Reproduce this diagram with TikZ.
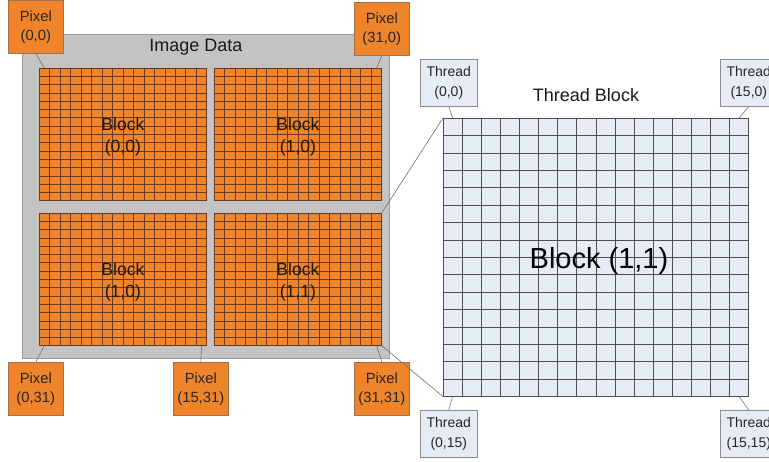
\documentclass[tikz,border=0pt]{standalone}
\usepackage{fontspec}
\setmainfont{Liberation Sans}
\usetikzlibrary{calc}

\definecolor{pixorange}{HTML}{F0842A}
\definecolor{pixedge}{HTML}{A07048}
\definecolor{cellline}{HTML}{6A3A1C}
\definecolor{imgfill}{HTML}{C3C3C3}
\definecolor{imgedge}{HTML}{9C9C9C}
\definecolor{thrfill}{HTML}{E6ECF6}
\definecolor{thredge}{HTML}{8C8C8C}
\definecolor{thrline}{HTML}{4E4E56}
\definecolor{leader}{HTML}{707070}

\tikzset{
  imgbox/.style={draw=imgedge, line width=1.2pt, fill=imgfill, inner sep=0pt,
    minimum width=367pt, minimum height=324pt, anchor=north west},
  blockbox/.style={draw=cellline, line width=0.8pt, fill=pixorange, inner sep=0pt,
    minimum width=167pt, minimum height=132pt, anchor=north west},
  cellrule/.style={draw=cellline, line width=0.7pt},
  blocklabel/.style={align=center, font=\fontsize{17.6}{22}\selectfont, text=black!90},
  pixbox/.style={draw=pixedge, line width=0.6pt, fill=pixorange, inner sep=0pt,
    minimum width=55pt, minimum height=53pt, anchor=north west, align=center,
    font=\fontsize{14.8}{19}\selectfont, text=black!85},
  thrgrid/.style={draw=thrline, line width=0.6pt, fill=thrfill, inner sep=0pt,
    minimum width=305pt, minimum height=278pt, anchor=north west},
  thrrule/.style={draw=thrline, line width=0.6pt},
  thrbox/.style={draw=thredge, line width=0.6pt, fill=thrfill, inner sep=0pt,
    minimum width=57pt, minimum height=47pt, anchor=north west, align=center,
    font=\fontsize{14}{20}\selectfont, text=black!85},
  title/.style={font=\fontsize{18}{20}\selectfont, text=black!90},
  leaderline/.style={draw=leader, line width=0.6pt},
}

\begin{document}
\begin{tikzpicture}[x=1pt, y=-1pt]
\useasboundingbox (0,0) rectangle (769,462);
\fill[white] (0,0) rectangle (769,462);

% the whole image
\node[imgbox] (img) at (22,34) {};
\node[title] (imgtitle) at (196,47) {Image Data};

% four 16x16 pixel blocks
\foreach \name/\x/\y in {b00/39/68, b10/214/68, b01/39/213, b11/214/213} {
  \node[blockbox] (\name) at (\x,\y) {};
  \foreach \i in {1,...,15} {
    \draw[cellrule] ($(\name.north west)!\i/16!(\name.north east)$) --
                    ($(\name.south west)!\i/16!(\name.south east)$);
    \draw[cellrule] ($(\name.north west)!\i/16!(\name.south west)$) --
                    ($(\name.north east)!\i/16!(\name.south east)$);
  }
}
\node[blocklabel] (l00) at ($(b00.center)+(0,3)$) {Block\\(0,0)};
\node[blocklabel] (l10) at ($(b10.center)+(0,3)$) {Block\\(1,0)};
\node[blocklabel] (l01) at ($(b01.center)+(0,3)$) {Block\\(1,0)};
\node[blocklabel] (l11) at ($(b11.center)+(0,3)$) {Block\\(1,1)};

% pixel call-outs
\node[pixbox] (p00)   at (8,0)     {Pixel\\(0,0)};
\node[pixbox] (p310)  at (354,2)   {Pixel\\(31,0)};
\node[pixbox] (p031)  at (8,362)   {Pixel\\(0,31)};
\node[pixbox] (p1531) at (173,362) {Pixel\\(15,31)};
\node[pixbox] (p3131) at (354,362) {Pixel\\(31,31)};

\coordinate (c00)   at ($(b00.north west)!1/32!(b00.north east)$);
\coordinate (c310)  at ($(b10.north west)!31/32!(b10.north east)$);
\coordinate (c031)  at ($(b01.south west)!1/32!(b01.south east)$);
\coordinate (c1531) at ($(b01.south west)!31/32!(b01.south east)$);
\coordinate (c3131) at ($(b11.south west)!31/32!(b11.south east)$);

\draw[leaderline] (p00.south)   -- (c00);
\draw[leaderline] (p310.south)  -- (c310);
\draw[leaderline] (p031.north)  -- (c031);
\draw[leaderline] (p1531.north) -- (c1531);
\draw[leaderline] (p3131.north) -- (c3131);

% enlarged thread block
\node[thrgrid] (tb) at (443,118) {};
\foreach \i in {1,...,15} {
  \draw[thrrule] ($(tb.north west)!\i/16!(tb.north east)$) --
                 ($(tb.south west)!\i/16!(tb.south east)$);
  \draw[thrrule] ($(tb.north west)!\i/16!(tb.south west)$) --
                 ($(tb.north east)!\i/16!(tb.south east)$);
}
\node[title] (tbtitle) at (586,95) {Thread Block};
\node[font=\fontsize{29}{34}\selectfont, text=black] (tblabel) at (599,261) {Block (1,1)};

% zoom lines from block (1,1)
\draw[leaderline] (b11.north east) -- (tb.north west);
\draw[leaderline] (b11.south east) -- (tb.south west);

% thread call-outs
\node[thrbox] (t00)   at (420,59)  {Thread\\(0,0)};
\node[thrbox] (t150)  at (720,59)  {Thread\\(15,0)};
\node[thrbox] (t015)  at (420,410) {Thread\\(0,15)};
\node[thrbox] (t1515) at (720,410) {Thread\\(15,15)};

\coordinate (d00)   at ($(tb.north west)!1/32!(tb.north east)$);
\coordinate (d150)  at ($(tb.north west)!31/32!(tb.north east)$);
\coordinate (d015)  at ($(tb.south west)!1/32!(tb.south east)$);
\coordinate (d1515) at ($(tb.south west)!31/32!(tb.south east)$);

\draw[leaderline] (t00.south)   -- (d00);
\draw[leaderline] (t150.south)  -- (d150);
\draw[leaderline] (t015.north)  -- (d015);
\draw[leaderline] (t1515.north) -- (d1515);
\end{tikzpicture}
\end{document}
